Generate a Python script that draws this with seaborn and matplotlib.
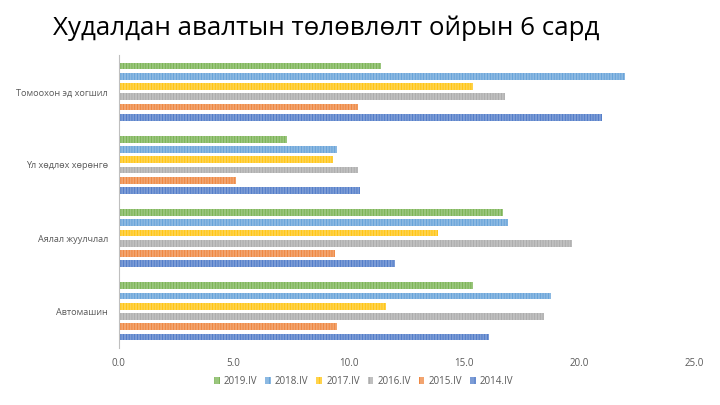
import matplotlib
matplotlib.use("Agg")
import matplotlib.pyplot as plt
import matplotlib.colors as mcolors
from matplotlib.patches import Patch
import seaborn as sns
import pandas as pd

categories = ["Томоохон эд хогшил", "Үл хөдлөх хөрөнгө", "Аялал жуулчлал", "Автомашин"]
series = ["2019.IV", "2018.IV", "2017.IV", "2016.IV", "2015.IV", "2014.IV"]
values = {
    "2019.IV": [11.4, 7.3, 16.7, 15.4],
    "2018.IV": [22.0, 9.5, 16.9, 18.8],
    "2017.IV": [15.4, 9.3, 13.9, 11.6],
    "2016.IV": [16.8, 10.4, 19.7, 18.5],
    "2015.IV": [10.4, 5.1, 9.4, 9.5],
    "2014.IV": [21.0, 10.5, 12.0, 16.1],
}
title = "Худалдан авалтын төлөвлөлт ойрын 6 сард"
xticks = [0, 5, 10, 15, 20, 25]

base_colors = {
    "2019.IV": "#70AD47",
    "2018.IV": "#5B9BD5",
    "2017.IV": "#FFC000",
    "2016.IV": "#A5A5A5",
    "2015.IV": "#ED7D31",
    "2014.IV": "#4472C4",
}

def lighten(c, f):
    r, g, b = mcolors.to_rgb(c)
    return (r + (1 - r) * f, g + (1 - g) * f, b + (1 - b) * f)

light = {k: lighten(v, 0.3) for k, v in base_colors.items()}

rows = []
for s in series:
    for c, v in zip(categories, values[s]):
        rows.append({"cat": c, "series": s, "val": v})
df = pd.DataFrame(rows)

sns.set_theme(style="white")
plt.rcParams["font.family"] = ["Open Sans", "DejaVu Sans"]
plt.rcParams["hatch.linewidth"] = 0.5

fig = plt.figure(figsize=(7.2, 4.05), dpi=100)
ax = fig.add_axes([0.1646, 0.1407, 0.7993, 0.7233])

sns.barplot(data=df, y="cat", x="val", hue="series", order=categories,
            hue_order=series, palette=light, width=0.84, gap=0.35,
            orient="h", legend=False, ax=ax, saturation=1)

lookup = {tuple(round(x, 4) for x in light[k]): k for k in series}
for p in ax.patches:
    fc = tuple(round(x, 4) for x in p.get_facecolor()[:3])
    k = lookup.get(fc)
    if k is not None:
        p.set_hatch("||||||")
        p.set_edgecolor(base_colors[k])
        p.set_linewidth(0.0)

ax.set_xlim(0, 25)
ax.set_xticks(xticks)
ax.set_xticklabels([f"{t:.1f}" for t in xticks])
ax.set_xlabel("")
ax.set_ylabel("")
ax.tick_params(axis="x", length=0, labelsize=7, colors="#595959", pad=7)
ax.tick_params(axis="y", length=0, labelsize=6.6, colors="#595959", pad=7.5)
for s in ["top", "right", "bottom"]:
    ax.spines[s].set_visible(False)
ax.spines["left"].set_color("#BFBFBF")
ax.spines["left"].set_linewidth(0.8)
ax.grid(False)

handles = [Patch(facecolor=light[s], edgecolor=base_colors[s], hatch="|||", linewidth=0) for s in series]
fig.legend(handles, series, loc="center", bbox_to_anchor=(0.505, 0.058), ncol=6,
           frameon=False, fontsize=7, handlelength=0.6, handleheight=0.6,
           handletextpad=0.4, columnspacing=0.8, labelcolor="#595959")

fig.text(0.074, 0.914, title, fontsize=18.6, color="black", ha="left", va="baseline")

fig.savefig("out.png", dpi=100)
